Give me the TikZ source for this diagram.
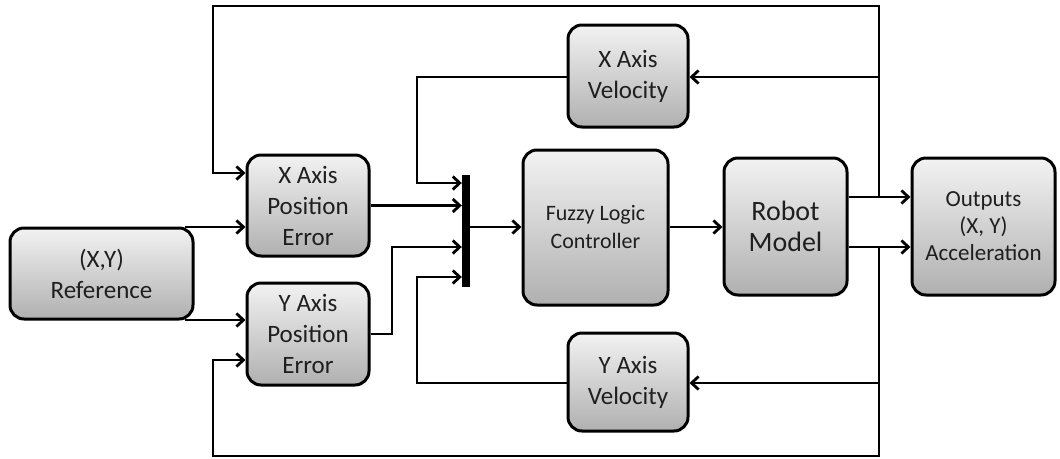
\documentclass[tikz,border=0pt]{standalone}
\usepackage{fontspec}
\setmainfont{Carlito}
\usetikzlibrary{arrows.meta,calc}
\begin{document}
\begin{tikzpicture}[x=1pt,y=-1pt,
  blk/.style={draw=black,line width=3pt,rounded corners=14pt,
    top color=gray!10,bottom color=gray!62,align=center,
    inner sep=0pt,text=black!88,
    font=\fontsize{25}{31}\selectfont},
  wire/.style={line width=2.8pt},
  arr/.style={wire,-{Straight Barb[length=7pt,width=13pt,line width=2.8pt]}},
  ]
\useasboundingbox (0,0) rectangle (1060,458);
% blocks
\node[blk,minimum width=183pt,minimum height=91pt] (ref) at (101.5,273.5) {(X,Y)\\Reference};
\node[blk,minimum width=122pt,minimum height=101pt] (xpos) at (308,205.5) {X Axis\\Position\\Error};
\node[blk,minimum width=122pt,minimum height=102pt] (ypos) at (308,334) {Y Axis\\Position\\Error};
\node[fill=black,minimum width=8pt,minimum height=112pt,inner sep=0pt] (bar) at (466,231) {};
\node[blk,minimum width=145pt,minimum height=155pt,font=\fontsize{22}{28}\selectfont] (flc) at (595.5,227.5) {Fuzzy Logic\\Controller};
\node[blk,minimum width=123pt,minimum height=137pt,font=\fontsize{28}{31}\selectfont] (robot) at (785.5,226.5) {Robot\\Model};
\node[blk,minimum width=143pt,minimum height=137pt,font=\fontsize{23}{27}\selectfont] (out) at (983.5,226.5) {Outputs\\(X, Y)\\Acceleration};
\node[blk,minimum width=120pt,minimum height=102pt] (xvel) at (628,76) {X Axis\\Velocity};
\node[blk,minimum width=120pt,minimum height=98pt] (yvel) at (628,382) {Y Axis\\Velocity};
% junction coordinates
\coordinate (ju) at (879,197);
\coordinate (jl) at (879,247);
\coordinate (rt) at (185,227);
\coordinate (rb) at (185,320);
% reference to errors
\draw[arr] (rt) -- (xpos.west |- rt);
\draw[arr] (rb) -- (ypos.west |- rb);
% error outputs to bar
\draw[arr] (xpos.east) -- (bar.west |- xpos.east);
\draw[arr] (ypos.east) -- (392,334) -- (392,247) -- (bar.west |- 0,247);
% velocity feedback
\draw[arr] (879,77) -- (xvel.east |- 0,77);
\draw[arr] (xvel.west |- 0,77) -- (417,77) -- (417,183) -- (bar.west |- 0,183);
\draw[arr] (879,383) -- (yvel.east |- 0,383);
\draw[arr] (yvel.west |- 0,383) -- (417,383) -- (417,277) -- (bar.west |- 0,277);
% main path
\draw[arr] (bar.east |- 0,227) -- (flc.west |- 0,227);
\draw[arr] (flc.east |- 0,227) -- (robot.west |- 0,227);
\draw[arr] (robot.east |- ju) -- (out.west |- ju);
\draw[arr] (robot.east |- jl) -- (out.west |- jl);
% position feedback loops
\draw[arr] (ju) -- (879,6) -- (213,6) -- (213,173) -- (xpos.west |- 0,173);
\draw[arr] (jl) -- (879,456) -- (213,456) -- (213,360) -- (ypos.west |- 0,360);
\end{tikzpicture}
\end{document}
